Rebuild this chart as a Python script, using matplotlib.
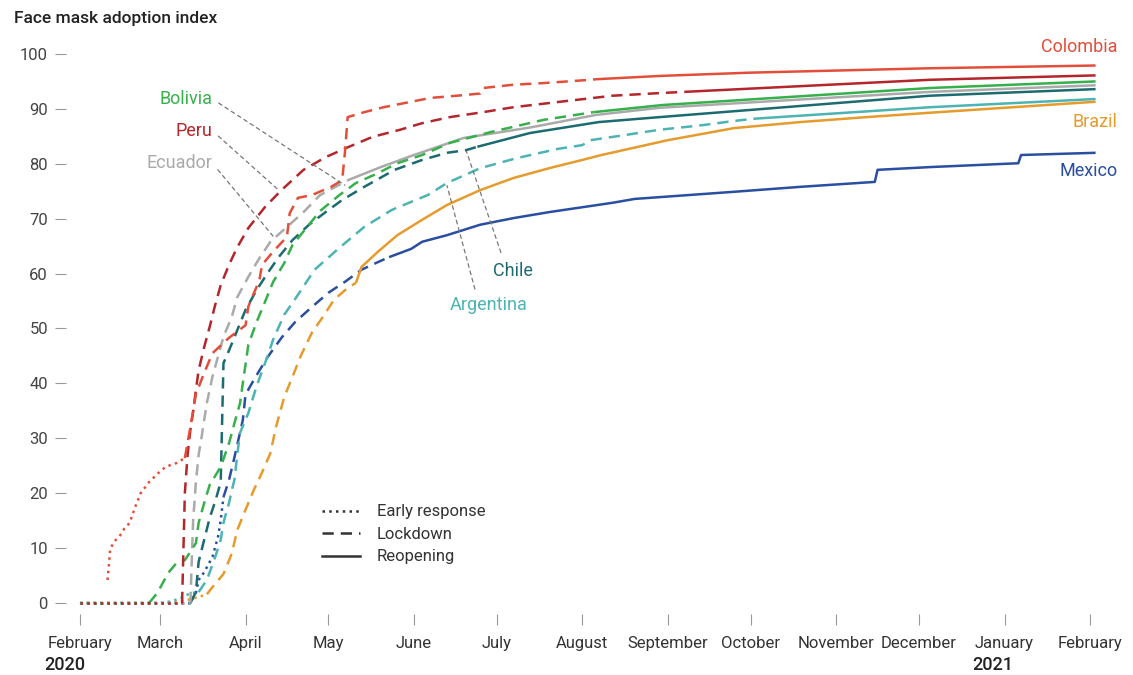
import numpy as np
import matplotlib
matplotlib.use("Agg")
import matplotlib.pyplot as plt
import matplotlib.dates as mdates
from matplotlib.lines import Line2D

plt.rcParams["font.family"] = ["Roboto", "DejaVu Sans"]

# --- data --------------------------------------------------------------------
colombia_dates = ["2020-02-11", "2020-02-12", "2020-02-14", "2020-02-16", "2020-02-17", "2020-02-19",
                  "2020-02-21", "2020-02-23", "2020-02-26", "2020-02-29", "2020-03-03", "2020-03-07",
                  "2020-03-10", "2020-03-12", "2020-03-14", "2020-03-17", "2020-03-20", "2020-03-26",
                  "2020-04-01", "2020-04-02", "2020-04-06", "2020-04-07", "2020-04-11", "2020-04-16",
                  "2020-04-17", "2020-04-20", "2020-04-25", "2020-05-02", "2020-05-06", "2020-05-07",
                  "2020-05-08", "2020-05-14", "2020-05-21", "2020-05-30", "2020-06-07", "2020-06-19",
                  "2020-06-25", "2020-06-26", "2020-07-07", "2020-07-18", "2020-08-04", "2020-08-06",
                  "2020-08-29", "2020-10-01", "2020-12-05", "2021-02-03"]
colombia_vals = [4.2, 10.0, 11.5, 12.6, 13.5, 14.6, 17.5, 20.0, 22.0, 23.5, 24.8, 25.5,
                 26.4, 32.0, 38.0, 41.9, 45.5, 48.3, 50.6, 54.0, 58.8, 61.6, 64.0, 66.7,
                 71.0, 73.8, 74.3, 75.8, 77.0, 82.0, 88.5, 89.4, 90.3, 91.2, 92.0, 92.5,
                 92.8, 93.8, 94.4, 94.7, 95.3, 95.4, 96.0, 96.6, 97.4, 97.9]

peru_dates = ["2020-02-01", "2020-03-09", "2020-03-10", "2020-03-11", "2020-03-12", "2020-03-13",
              "2020-03-14", "2020-03-15", "2020-03-17", "2020-03-19", "2020-03-21", "2020-03-23",
              "2020-03-26", "2020-03-29", "2020-04-02", "2020-04-08", "2020-04-14", "2020-04-22",
              "2020-04-30", "2020-05-08", "2020-05-17", "2020-05-27", "2020-06-04", "2020-06-14",
              "2020-06-26", "2020-07-07", "2020-07-24", "2020-08-12", "2020-08-30", "2020-09-07",
              "2020-12-05", "2021-02-03"]
peru_vals = [0, 0, 20.0, 27.0, 31.5, 34.8, 38.8, 42.4, 46.6, 50.3, 54.3, 57.9,
             61.6, 64.8, 68.3, 72.1, 75.2, 78.9, 81.2, 83.0, 84.9, 86.2, 87.4, 88.5,
             89.4, 90.3, 91.3, 92.4, 92.9, 93.1, 95.3, 96.1]

bolivia_dates = ["2020-02-01", "2020-02-26", "2020-02-29", "2020-03-04", "2020-03-07", "2020-03-10",
                 "2020-03-14", "2020-03-15", "2020-03-17", "2020-03-19", "2020-03-23", "2020-03-26",
                 "2020-03-28", "2020-03-30", "2020-03-31", "2020-04-02", "2020-04-05", "2020-04-08",
                 "2020-04-11", "2020-04-15", "2020-04-18", "2020-04-23", "2020-04-28", "2020-05-05",
                 "2020-05-11", "2020-05-19", "2020-05-26", "2020-06-04", "2020-06-14", "2020-06-29",
                 "2020-07-18", "2020-08-05", "2020-08-30", "2020-12-05", "2021-02-03"]
bolivia_vals = [0, 0, 1.8, 5.5, 7.3, 7.8, 10.9, 14.6, 18.2, 21.5, 24.8, 29.1,
                32.8, 36.4, 40.0, 47.0, 51.2, 54.8, 58.5, 61.9, 65.2, 68.3, 71.4, 74.3,
                76.5, 78.3, 80.1, 81.6, 83.8, 85.8, 88.0, 89.4, 90.7, 93.8, 95.0]

ecuador_dates = ["2020-02-01", "2020-03-12", "2020-03-13", "2020-03-14", "2020-03-15", "2020-03-16",
                 "2020-03-17", "2020-03-18", "2020-03-20", "2020-03-24", "2020-03-27", "2020-03-29",
                 "2020-04-02", "2020-04-06", "2020-04-10", "2020-04-16", "2020-04-22", "2020-04-28",
                 "2020-05-08", "2020-05-20", "2020-06-01", "2020-06-19", "2020-07-13", "2020-08-06",
                 "2020-08-29", "2020-12-05", "2021-02-03"]
ecuador_vals = [0, 0, 15.0, 22.0, 27.0, 30.0, 33.3, 36.5, 41.2, 48.5, 52.1, 55.7,
                59.4, 62.8, 65.8, 68.5, 71.2, 74.3, 77.0, 79.4, 81.6, 84.7, 86.6, 88.9,
                90.2, 93.1, 94.3]

chile_dates = ["2020-02-01", "2020-03-12", "2020-03-14", "2020-03-15", "2020-03-17", "2020-03-19",
               "2020-03-21", "2020-03-23", "2020-03-24", "2020-03-26", "2020-03-29", "2020-04-01",
               "2020-04-05", "2020-04-09", "2020-04-13", "2020-04-18", "2020-04-24", "2020-04-30",
               "2020-05-06", "2020-05-14", "2020-05-25", "2020-06-04", "2020-06-13", "2020-06-20",
               "2020-06-24", "2020-07-13", "2020-08-07", "2020-08-29", "2020-12-05", "2021-02-03"]
chile_vals = [0, 0, 2.0, 7.5, 11.5, 15.5, 18.5, 22.0, 43.7, 46.0, 49.7, 53.4,
              57.0, 60.1, 63.0, 66.1, 68.9, 71.2, 73.4, 75.8, 78.9, 80.7, 82.0, 82.5,
              83.1, 85.6, 87.6, 88.5, 92.4, 93.6]

argentina_dates = ["2020-02-01", "2020-03-01", "2020-03-05", "2020-03-09", "2020-03-12", "2020-03-15",
                   "2020-03-18", "2020-03-21", "2020-03-23", "2020-03-24", "2020-03-25", "2020-03-26",
                   "2020-03-27", "2020-03-28", "2020-03-29", "2020-03-30", "2020-04-02", "2020-04-05",
                   "2020-04-09", "2020-04-11", "2020-04-15", "2020-04-19", "2020-04-26", "2020-05-05",
                   "2020-05-14", "2020-05-24", "2020-06-06", "2020-06-13", "2020-06-25", "2020-07-08",
                   "2020-07-23", "2020-08-01", "2020-08-04", "2020-08-16", "2020-08-29", "2020-09-13",
                   "2020-09-25", "2020-10-02", "2020-12-05", "2021-02-03"]
argentina_vals = [0, 0, 0.3, 1.0, 1.8, 2.0, 4.2, 8.4, 11.5, 14.6, 16.5, 18.2,
                  20.5, 22.5, 27.0, 31.0, 34.6, 39.5, 45.0, 48.0, 52.5, 55.4, 60.7, 64.7,
                  68.5, 71.6, 74.3, 76.5, 79.2, 81.0, 82.7, 83.4, 84.3, 85.2, 86.2, 87.0,
                  87.8, 88.2, 90.3, 91.8]

brazil_dates = ["2020-02-01", "2020-03-05", "2020-03-12", "2020-03-15", "2020-03-18", "2020-03-20",
                "2020-03-24", "2020-03-27", "2020-03-29", "2020-04-01", "2020-04-04", "2020-04-07",
                "2020-04-10", "2020-04-12", "2020-04-15", "2020-04-18", "2020-04-21", "2020-04-25",
                "2020-04-29", "2020-05-03", "2020-05-08", "2020-05-11", "2020-05-13", "2020-05-19",
                "2020-05-26", "2020-06-04", "2020-06-13", "2020-06-25", "2020-07-07", "2020-07-20",
                "2020-08-01", "2020-08-08", "2020-09-01", "2020-09-25", "2020-10-19", "2020-11-12",
                "2020-12-05", "2021-02-03"]
brazil_vals = [0, 0, 0.7, 1.1, 1.6, 2.9, 5.3, 9.0, 13.3, 17.0, 20.6, 23.8,
               27.3, 32.0, 37.5, 41.2, 45.0, 49.2, 52.1, 55.2, 57.4, 58.3, 61.2, 64.0,
               67.0, 69.8, 72.5, 75.2, 77.4, 79.2, 80.7, 81.6, 84.3, 86.5, 87.6, 88.5,
               89.3, 91.3]

mexico_dates = ["2020-02-01", "2020-03-12", "2020-03-14", "2020-03-15", "2020-03-17", "2020-03-20",
                "2020-03-22", "2020-03-23", "2020-03-24", "2020-03-26", "2020-03-28", "2020-03-31",
                "2020-04-01", "2020-04-05", "2020-04-09", "2020-04-14", "2020-04-19", "2020-04-25",
                "2020-05-01", "2020-05-07", "2020-05-13", "2020-05-19", "2020-05-23", "2020-05-31",
                "2020-06-04", "2020-06-13", "2020-06-25", "2020-07-07", "2020-07-20", "2020-08-12",
                "2020-08-20", "2020-09-25", "2020-10-19", "2020-11-15", "2020-11-16", "2020-12-05",
                "2021-01-06", "2021-01-07", "2021-02-03"]
mexico_vals = [0, 0, 1.8, 4.2, 5.6, 8.4, 12.0, 15.1, 19.3, 22.4, 26.6, 33.3,
               38.0, 41.5, 44.8, 48.3, 51.2, 53.9, 56.5, 58.5, 60.7, 62.1, 63.0, 64.5,
               65.8, 67.0, 68.9, 70.1, 71.2, 72.9, 73.6, 74.9, 75.8, 76.7, 78.9, 79.4,
               80.1, 81.6, 82.0]

# (name, dates, values, lockdown start, reopening start, colour)
countries = [
    ("Mexico", mexico_dates, mexico_vals, "2020-03-24", "2020-05-23", "#2a4ea0"),
    ("Brazil", brazil_dates, brazil_vals, "2020-03-18", "2020-05-11", "#e69b2d"),
    ("Argentina", argentina_dates, argentina_vals, "2020-03-15", "2020-10-02", "#4cb4b2"),
    ("Chile", chile_dates, chile_vals, "2020-03-12", "2020-06-24", "#1c6b70"),
    ("Ecuador", ecuador_dates, ecuador_vals, "2020-03-12", "2020-05-08", "#aaaaaa"),
    ("Bolivia", bolivia_dates, bolivia_vals, "2020-02-26", "2020-08-05", "#36b04a"),
    ("Peru", peru_dates, peru_vals, "2020-03-09", "2020-09-07", "#b3262b"),
    ("Colombia", colombia_dates, colombia_vals, "2020-03-10", "2020-08-06", "#e24e3a"),
]

LW = 1.8
DOT = (0, (1.0, 1.7))
DASH = (0, (4.5, 2.8))


def num(day):
    return mdates.date2num(np.datetime64(day))


fig = plt.figure(figsize=(11.33, 6.75), dpi=100)
ax = fig.add_axes([66 / 1133, 61 / 675, 1034 / 1133, 571 / 675])

for name, dates, vals, lockdown, reopening, color in countries:
    d = np.array(dates, dtype="datetime64[D]")
    v = np.array(vals)
    lk, rp = np.datetime64(lockdown), np.datetime64(reopening)
    phases = [(d <= lk, DOT), ((d >= lk) & (d <= rp), DASH), (d >= rp, "-")]
    for mask, ls in phases:
        ax.plot(d[mask], v[mask], color=color, lw=LW, linestyle=ls,
                dash_capstyle="butt", solid_capstyle="butt")

start = num("2020-02-01")
ax.set_xlim(start - 5.06, start + 369.6)
ax.set_ylim(-2, 102)
ax.set_yticks(range(0, 101, 10))
ax.xaxis.set_major_locator(mdates.MonthLocator())
ax.xaxis.set_major_formatter(mdates.DateFormatter("%B"))
ax.tick_params(axis="x", length=8, width=0.8, color="#999999", pad=8,
               labelsize=12, labelcolor="#333333")
ax.tick_params(axis="y", length=8, width=0.8, color="#999999", pad=5,
               labelsize=12, labelcolor="#444444")
for s in ax.spines.values():
    s.set_visible(False)

fig.text(14 / 1133, 1 - 18 / 675, "Face mask adoption index", fontsize=12.5,
         va="center", color="#222222", fontweight="medium")

colors = {c[0]: c[5] for c in countries}

# labels at the right end
for name, y in (("Colombia", 101.3), ("Brazil", 87.6), ("Mexico", 78.7)):
    ax.text(num("2021-02-11"), y, name, color=colors[name], fontsize=13,
            ha="right", va="center")

# labels with leader lines
leader = dict(arrowstyle="-", color="#777777", lw=0.9, linestyle=(0, (3, 3)), shrinkB=0)
callouts = [
    ("Bolivia", ("2020-03-20", 91.8), ("2020-05-07", 76.1), "right", (1, 0.5), 3),
    ("Peru", ("2020-03-20", 86.0), ("2020-04-13", 75.2), "right", (1, 0.5), 3),
    ("Ecuador", ("2020-03-20", 80.1), ("2020-04-11", 66.8), "right", (1, 0.5), 3),
    ("Chile", ("2020-07-07", 60.5), ("2020-06-20", 82.3), "center", (0.27, 1), 5),
    ("Argentina", ("2020-06-28", 54.3), ("2020-06-13", 76.0), "center", (0.35, 1), 3),
]
for name, (tx, ty), (px, py), ha, relpos, shrink in callouts:
    ax.annotate(name, xy=(num(px), py), xytext=(num(tx), ty), color=colors[name],
                fontsize=13, ha=ha, va="center",
                arrowprops=dict(leader, relpos=relpos, shrinkA=shrink))

handles = [Line2D([], [], color="#333333", lw=LW, linestyle=ls) for ls in (DOT, DASH, "-")]
ax.legend(handles, ["Early response", "Lockdown", "Reopening"], loc="upper left",
          bbox_to_anchor=(0.2476, 0.192), frameon=False, fontsize=12, labelcolor="#333333",
          handlelength=2.3, handletextpad=1.0, labelspacing=0.45, borderpad=0, borderaxespad=0)

# year labels under the first tick of each year
fig.canvas.draw()
renderer = fig.canvas.get_renderer()
for year, day in (("2020", "2020-02-01"), ("2021", "2021-01-01")):
    for lab in ax.get_xticklabels():
        if abs(lab.get_position()[0] - num(day)) < 0.5:
            bb = lab.get_window_extent(renderer)
            fig.text(bb.x0 / fig.bbox.width - 3 / 1133, 10 / 675, year, fontsize=13,
                     fontweight="medium", color="#222222", va="center", ha="left")

fig.savefig("out.png", dpi=100)
